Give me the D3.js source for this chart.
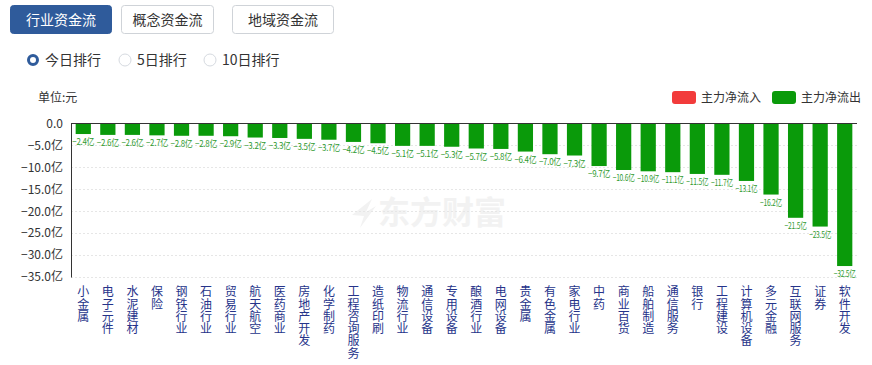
<!DOCTYPE html>
<html><head><meta charset="utf-8">
<script src="https://cdn.jsdelivr.net/npm/d3@7/dist/d3.min.js"></script>
<style>body{margin:0;background:#fff;font-family:"Microsoft YaHei","Noto Sans CJK SC",sans-serif;}</style>
</head><body><svg id="c" width="872" height="365"></svg>
<script>
const categories = ["小金属","电子元件","水泥建材","保险","钢铁行业","石油行业","贸易行业","航天航空","医药商业","房地产开发","化学制药","工程咨询服务","造纸印刷","物流行业","通信设备","专用设备","酿酒行业","电网设备","贵金属","有色金属","家电行业","中药","商业百货","船舶制造","通信服务","银行","工程建设","计算机设备","多元金融","互联网服务","证券","软件开发"];
const values = [-2.4,-2.6,-2.6,-2.7,-2.8,-2.8,-2.9,-3.2,-3.3,-3.5,-3.7,-4.2,-4.5,-5.1,-5.1,-5.3,-5.7,-5.8,-6.4,-7.0,-7.3,-9.7,-10.6,-10.9,-11.1,-11.5,-11.7,-13.1,-16.2,-21.5,-23.5,-32.5];
const yTicks = [0,-5,-10,-15,-20,-25,-30,-35];
const tabs = ["行业资金流","概念资金流","地域资金流"];
const radios = ["今日排行","5日排行","10日排行"];
const legendItems = [{name:"主力净流入",color:"#f23b3b"},{name:"主力净流出",color:"#0a9a0a"}];

(function(){
const svg = d3.select("#c");
const font = '"Microsoft YaHei","Noto Sans CJK SC",sans-serif';

const tabX = [10,121,232], tabW=[101,92,101];
tabs.forEach((t,i)=>{
  const g = svg.append("g");
  g.append("rect").attr("x",tabX[i]+0.5).attr("y",5.5).attr("width",tabW[i]).attr("height",28).attr("rx",3)
   .attr("fill", i===0?"#2f5b9b":"#fff").attr("stroke", i===0?"#2f5b9b":"#cfd3d8");
  g.append("text").attr("x",tabX[i]+tabW[i]/2+0.5).attr("y",20).attr("dy","0.35em").attr("text-anchor","middle")
   .attr("font-size",14).attr("font-family",font).attr("fill", i===0?"#fff":"#333").text(t);
});
const rx=[33,125,210];
radios.forEach((t,i)=>{
  if(i===0){
    svg.append("circle").attr("cx",rx[i]).attr("cy",60).attr("r",4.5).attr("fill","#fff").attr("stroke","#2f5b9b").attr("stroke-width",3);
  } else {
    svg.append("circle").attr("cx",rx[i]).attr("cy",60).attr("r",6).attr("fill","#fff").attr("stroke","#d6dae0").attr("stroke-width",1);
  }
  svg.append("text").attr("x",rx[i]+12).attr("y",60).attr("dy","0.35em").attr("font-size",14).attr("font-family",font).attr("fill","#333").text(t);
});

svg.append("text").attr("x",38).attr("y",98).attr("dy","0.35em").attr("font-size",12).attr("font-family",font).attr("fill","#333").text("单位:元");

const lx=[672,772];
legendItems.forEach((d,i)=>{
  svg.append("rect").attr("x",lx[i]).attr("y",91).attr("width",24).attr("height",13).attr("rx",3).attr("fill",d.color);
  svg.append("text").attr("x",lx[i]+29).attr("y",97.5).attr("dy","0.35em").attr("font-size",12).attr("font-family",font).attr("fill","#333").text(d.name);
});

const pl=71, pr=857, pt=123.5, pb=277;
const x = d3.scaleBand().domain(categories).range([pl,pr]).paddingInner(0.38).paddingOuter(0.19);
const y = d3.scaleLinear().domain([0,-35]).range([pt,pb]);

// watermark
svg.append("path").attr("d","M352,215 L372,199 L366,212 L376,206 L360,228 L364,216 Z").attr("fill","#f2f2f2");
svg.append("text").attr("x",378).attr("y",213).attr("dy","0.35em").attr("font-size",32).attr("font-weight","bold")
  .attr("font-family",font).attr("fill","#f2f2f2").text("东方财富");

svg.append("g").selectAll("line").data(yTicks.slice(1)).join("line")
  .attr("x1",pl).attr("x2",pr).attr("y1",d=>Math.round(y(d))+0.5).attr("y2",d=>Math.round(y(d))+0.5)
  .attr("stroke","#e6e6e6").attr("stroke-dasharray","2,2");

const yAxis = d3.axisLeft(y).tickValues(yTicks).tickSize(0).tickPadding(8)
  .tickFormat(d=> d===0 ? "0.0" : d3.format(".1f")(d)+"亿");
const ga = svg.append("g").attr("transform",`translate(${pl},0)`).call(yAxis);
ga.select(".domain").attr("stroke","#333");
ga.selectAll("text").attr("font-size",12).attr("font-family",font).attr("fill","#333");

svg.append("g").selectAll("rect").data(values).join("rect")
  .attr("x",(d,i)=>x(categories[i])).attr("width",x.bandwidth())
  .attr("y",y(0)).attr("height",d=>y(d)-y(0)).attr("fill","#0a9a0a");

const vl = svg.append("g").selectAll("text").data(values).join("text")
  .attr("x",(d,i)=>x(categories[i])+x.bandwidth()/2).attr("y",d=>y(d)+8).attr("dy","0.35em")
  .attr("text-anchor","middle").attr("font-size",9).attr("font-family",font).attr("fill","#2f9a2f")
  .attr("letter-spacing","-0.3").text(d=>d3.format(".1f")(d)+"亿");
vl.each(function(){
  const w=this.getComputedTextLength();
  if(w>22){ d3.select(this).attr("textLength",22).attr("lengthAdjust","spacingAndGlyphs"); }
});

svg.append("line").attr("x1",pl).attr("x2",pr).attr("y1",pt).attr("y2",pt).attr("stroke","#333");

const xl = svg.append("g").selectAll("text").data(categories).join("text")
  .attr("text-anchor","middle").attr("font-size",12).attr("font-family",font).attr("fill","#26348a");
xl.each(function(c){
  const t=d3.select(this);
  const cx=x(c)+x.bandwidth()/2;
  [...c].forEach((ch,k)=>{
    t.append("tspan").attr("x",cx).attr("y",292+k*12.3).attr("dy","0.35em").text(ch);
  });
});
})();
</script></body></html>
